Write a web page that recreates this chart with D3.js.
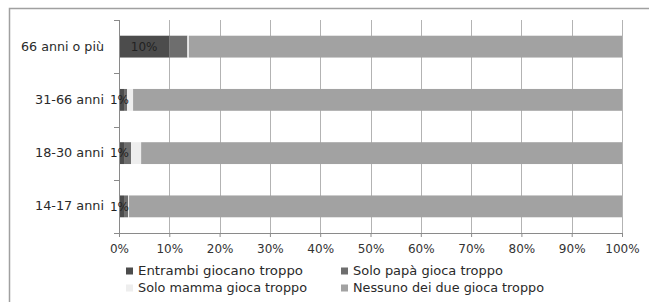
<!DOCTYPE html>
<html><head><meta charset="utf-8">
<script src="https://cdn.jsdelivr.net/npm/d3@7"></script>
<style>body{margin:0;background:#fff}svg{display:block}text{font-family:"DejaVu Sans",sans-serif}</style>
</head><body>
<svg id="c" width="649" height="302"></svg>
<script>
const categories = ["66 anni o più","31-66 anni","18-30 anni","14-17 anni"];
const seriesNames = ["Entrambi giocano troppo","Solo papà gioca troppo","Solo mamma gioca troppo","Nessuno dei due gioca troppo"];
const entrambi = [10, 1, 1, 1];
const soloPapa = [3.6, 0.6, 1.4, 0.8];
const soloMamma = [0.3, 1.2, 2.0, 0.2];
const nessuno = [86.1, 97.2, 95.6, 98.0];
const labels = ["10%","1%","1%","1%"];
const ticks = [0,10,20,30,40,50,60,70,80,90,100];
const colors = ["#4c4c4c","#6e6e6e","#eeeeee","#a2a2a2"];

const svg = d3.select("#c");
svg.append("path").attr("d","M9.5,302 V8.5 H649").attr("fill","none").attr("stroke","#a0a0a0").attr("stroke-width",1.5);

const x = d3.scaleLinear().domain([0,100]).range([119,622]);
const y = d3.scaleBand().domain(categories).range([20,233]).paddingInner(0.59).paddingOuter(0.295);

const rows = categories.map((c,i)=>({cat:c, v:[entrambi[i],soloPapa[i],soloMamma[i],nessuno[i]]}));
const layers = d3.stack().keys([0,1,2,3]).value((d,k)=>d.v[k])(rows);

svg.append("g").selectAll("line").data(ticks.slice(1)).join("line")
  .attr("x1",d=>Math.round(x(d))+0.5).attr("x2",d=>Math.round(x(d))+0.5).attr("y1",20).attr("y2",233)
  .attr("stroke","#b3b3b3");

layers.forEach((L,k)=>{
  svg.append("g").selectAll("rect").data(L).join("rect")
    .attr("x",d=>x(d[0])).attr("width",d=>x(d[1])-x(d[0]))
    .attr("y",d=>y(d.data.cat)).attr("height",y.bandwidth())
    .attr("fill",colors[k]);
});

const xa = svg.append("g").attr("transform","translate(0,233)")
  .call(d3.axisBottom(x).tickValues(ticks).tickFormat(d=>d+"%").tickSize(4).tickPadding(7));
xa.select(".domain").attr("stroke","#8a8a8a");
xa.selectAll(".tick line").attr("stroke","#8a8a8a");
xa.selectAll("text").attr("font-size",12).attr("fill","#333");

const ya = svg.append("g");
ya.append("line").attr("x1",119.5).attr("x2",119.5).attr("y1",20).attr("y2",233).attr("stroke","#8a8a8a");
const half = (y.step()-y.bandwidth())/2;
const bounds = categories.map(c=>y(c)-half).concat([233]);
ya.selectAll("line.t").data(bounds).join("line").attr("class","t")
  .attr("x1",114).attr("x2",119).attr("y1",d=>Math.round(d)+0.5).attr("y2",d=>Math.round(d)+0.5).attr("stroke","#8a8a8a");

const catW = [83,69,69,69];
svg.append("g").selectAll("text").data(categories).join("text")
  .attr("x",(d,i)=>104-catW[i]).attr("y",d=>y(d)+y.bandwidth()/2).attr("dy","0.35em")
  .attr("textLength",(d,i)=>catW[i]).attr("lengthAdjust","spacingAndGlyphs")
  .attr("font-size",11.5).attr("fill","#2a2a2a").text(d=>d);

svg.append("g").selectAll("text").data(layers[0]).join("text")
  .attr("x",d=>d.data.v[0]<5?119.5:(x(d[0])+x(d[1]))/2).attr("y",d=>y(d.data.cat)+y.bandwidth()/2).attr("dy","0.35em")
  .attr("text-anchor","middle").attr("font-size",12).attr("fill","#222")
  .text((d,i)=>labels[i]);

const lp = [[126,271],[341,271],[126,288],[341,288]];
const lw = [165,150,169,191];
const lg = svg.append("g").selectAll("g").data(seriesNames).join("g")
  .attr("transform",(d,i)=>`translate(${lp[i][0]},${lp[i][1]})`);
lg.append("rect").attr("x",0).attr("y",-3.5).attr("width",7).attr("height",7).attr("fill",(d,i)=>colors[i]);
lg.append("text").attr("x",12).attr("y",0).attr("dy","0.35em")
  .attr("textLength",(d,i)=>lw[i]).attr("lengthAdjust","spacingAndGlyphs")
  .attr("font-size",11.5).attr("fill","#2a2a2a").text(d=>d);
</script>
</body></html>
